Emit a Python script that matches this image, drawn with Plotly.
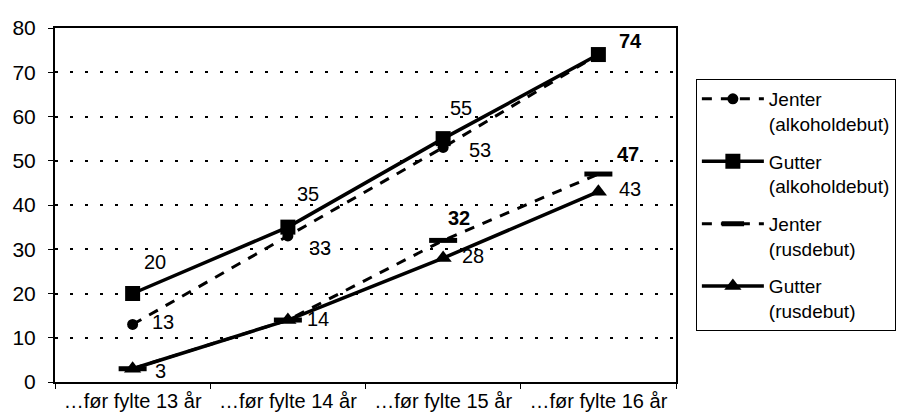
import plotly.graph_objects as go

categories = ["…før fylte 13 år", "…før fylte 14 år", "…før fylte 15 år", "…før fylte 16 år"]
jenter_alkohol = [13, 33, 53, 74]
gutter_alkohol = [20, 35, 55, 74]
jenter_rus = [3, 14, 32, 47]
gutter_rus = [3, 14, 28, 43]
y_ticks = [0, 10, 20, 30, 40, 50, 60, 70, 80]

# labels shown on chart (None = hidden)
jenter_alkohol_labels = ["13", "33", "53", None]
gutter_alkohol_labels = ["20", "35", "55", "74"]
jenter_rus_labels = [None, None, "32", "47"]
gutter_rus_labels = ["3", "14", "28", "43"]

FONT = "Liberation Sans, Arial, sans-serif"

fig = go.Figure()

fig.add_trace(go.Scatter(
    x=categories, y=jenter_alkohol, name="Jenter<br>(alkoholdebut)",
    mode="lines+markers", legendgroup="g1",
    line=dict(color="black", width=3, dash="10px,9px"),
    marker=dict(symbol="circle", size=11, color="black"),
))
fig.add_trace(go.Scatter(
    x=categories, y=gutter_alkohol, name="Gutter<br>(alkoholdebut)",
    mode="lines+markers", legendgroup="g2",
    line=dict(color="black", width=3.5),
    marker=dict(symbol="square", size=15, color="black"),
))
fig.add_trace(go.Scatter(
    x=categories, y=jenter_rus, name="Jenter<br>(rusdebut)",
    mode="lines+markers", legendgroup="g3",
    line=dict(color="black", width=3, dash="10px,9px"),
    marker=dict(symbol="line-ew", size=20, color="black", line=dict(width=5, color="black")),
))
fig.add_trace(go.Scatter(
    x=categories, y=gutter_rus, name="Gutter<br>(rusdebut)",
    mode="lines+markers", legendgroup="g4",
    line=dict(color="black", width=3.5),
    marker=dict(symbol="triangle-up", size=15, color="black"),
))

# label offsets (pixels) per series
offsets = {
    "ja": [(30, 2), (32, -12), (37, -3), (0, 0)],
    "ga": [(22, 32), (20, 33), (18, 31), (32, 14)],
    "jr": [(0, 0), (0, 0), (16, 22), (30, 20)],
    "gr": [(28, -2), (30, 1), (30, 2), (32, 3)],
}
bold = {"74", "47", "32"}
for key, vals, labels in [("ja", jenter_alkohol, jenter_alkohol_labels),
                          ("ga", gutter_alkohol, gutter_alkohol_labels),
                          ("jr", jenter_rus, jenter_rus_labels),
                          ("gr", gutter_rus, gutter_rus_labels)]:
    for i, (c, v, lab) in enumerate(zip(categories, vals, labels)):
        if lab is None:
            continue
        dx, dy = offsets[key][i]
        fig.add_annotation(
            x=c, y=v, text=("<b>%s</b>" % lab) if lab in bold else lab,
            showarrow=False, xshift=dx, yshift=dy,
            font=dict(family=FONT, size=20, color="black"),
        )

fig.update_layout(
    width=904, height=413,
    margin=dict(l=47, r=236, t=20, b=39, autoexpand=False),
    paper_bgcolor="white", plot_bgcolor="white",
    font=dict(family=FONT, size=20, color="black"),
    showlegend=True,
    legend=dict(
        x=1.032, xanchor="left", y=0.856, yanchor="top",
        bordercolor="black", borderwidth=1, bgcolor="white",
        font=dict(family=FONT, size=19, color="black"),
        itemwidth=62, tracegroupgap=10, valign="top",
    ),
)
fig.update_xaxes(
    type="category", range=[-0.5, 3.5], tickson="boundaries", ticks="outside", ticklen=5,
    tickcolor="black", showline=True, linecolor="black", linewidth=2, mirror=True,
    showgrid=False, tickfont=dict(family=FONT, size=20, color="black"),
    ticklabelstandoff=0,
)
fig.update_yaxes(
    range=[0, 80], tickvals=y_ticks, ticks="outside", ticklen=5, tickcolor="black",
    showline=True, linecolor="black", linewidth=2, mirror=True,
    showgrid=True, gridcolor="black", gridwidth=1.5, griddash="3px,12px",
    zeroline=False, tickfont=dict(family=FONT, size=21, color="black"),
    ticklabelstandoff=8,
)

fig.write_html("out.html")
